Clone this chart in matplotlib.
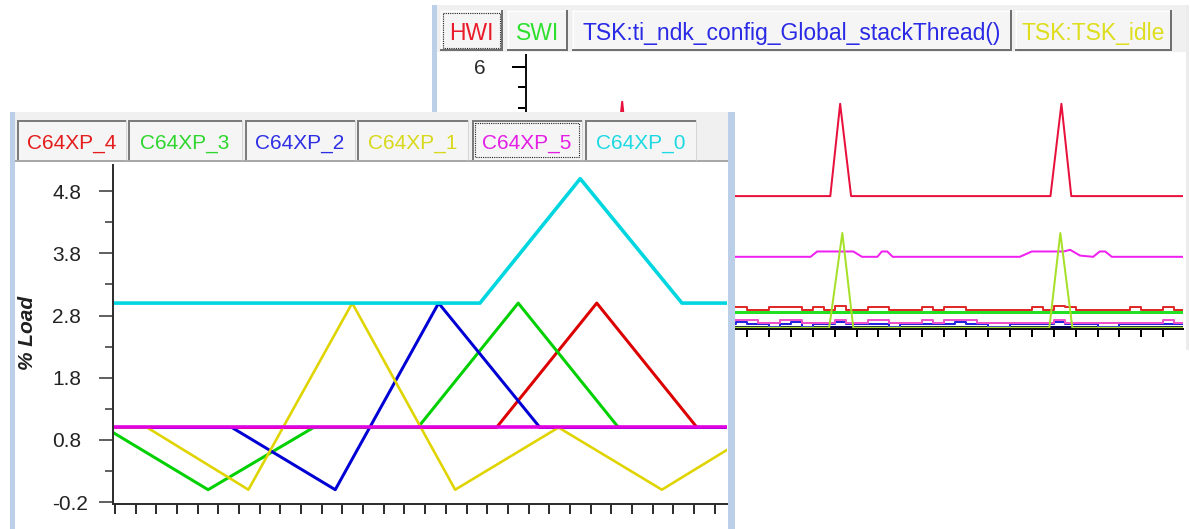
#!/usr/bin/env python3

import numpy as np
import matplotlib
matplotlib.use('Agg')
import matplotlib.pyplot as plt
from matplotlib.patches import Rectangle
from matplotlib.ticker import FixedLocator

plt.rcParams['font.family'] = ['Liberation Sans', 'DejaVu Sans']

W, H = 1190, 529
PT = 0.72   # points per pixel (dpi=100)

# ---------------- front window : % load per core ----------------
front_tabs = ['C64XP_4', 'C64XP_3', 'C64XP_2', 'C64XP_1', 'C64XP_5', 'C64XP_0']
front_tab_colors = ['#e41c1c', '#2ed62e', '#2e2ee4', '#d8d81c', '#e41ee4', '#1cd9e2']
front_yticks = [-0.2, 0.8, 1.8, 2.8, 3.8, 4.8]

core4_x = [-0.1, 18.45, 23.3, 28.15, 29.6]
core4_y = [1.0, 1.0, 3.0, 1.0, 1.0]
core3_x = [-0.1, 4.5, 9.6, 14.65, 19.5, 24.35, 29.6]
core3_y = [0.92, 0.0, 1.0, 1.0, 3.0, 1.0, 1.0]
core2_x = [-0.1, 5.65, 10.65, 15.65, 20.55, 29.6]
core2_y = [1.0, 1.0, 0.0, 3.0, 1.0, 1.0]
core1_x = [-0.1, 1.55, 6.45, 11.47, 16.45, 21.45, 26.45, 29.6]
core1_y = [1.0, 1.0, 0.0, 3.0, 0.0, 1.0, 0.0, 0.64]
core5_x = [-0.1, 29.6]
core5_y = [1.0, 1.0]
core0_x = [-0.1, 17.65, 22.5, 27.42, 29.6]
core0_y = [3.0, 3.0, 5.0, 3.0, 3.0]

# ---------------- back window : threads ----------------
back_tabs = ['HWI', 'SWI', 'TSK:ti_ndk_config_Global_stackThread()', 'TSK:TSK_idle']
back_tab_colors = ['#ea1a2a', '#2ee02e', '#2a2ae6', '#dede1e']
back_yticks = [0, 2, 4, 6]

hwi_x = [0, 3.85, 4.3, 4.75, 13.8, 14.25, 14.75, 23.85, 24.35, 24.8, 29.9]
hwi_y = [2.85, 2.85, 5.15, 2.85, 2.85, 5.1, 2.85, 2.85, 5.1, 2.85, 2.85]
idle_x = [0, 3.8, 4.3, 4.85, 13.75, 14.35, 14.85, 23.8, 24.3, 24.85, 29.9]
idle_y = [-0.36, -0.36, 1.95, -0.36, -0.36, 1.95, -0.36, -0.36, 1.95, -0.36, -0.36]
stack_x = [0, 12.9, 13.2, 14.85, 15.25, 15.95, 16.15, 16.4, 16.65,
           22.45, 23.0, 24.45, 24.75, 25.2, 25.8, 26.1, 26.35, 26.65, 29.9]
stack_y = [1.37, 1.37, 1.5, 1.5, 1.37, 1.37, 1.5, 1.5, 1.37,
           1.37, 1.5, 1.5, 1.54, 1.4, 1.37, 1.5, 1.5, 1.37, 1.37]
swi_x = [0, 29.9]
swi_y = [0.02, 0.02]
navy_x = [0, 29.9]
navy_y = [-0.35, -0.35]

# low level series, one value every half tick
red_low = [0.07, 0.07, 0.15, 0.15, 0.15, 0.07, 0.15, 0.07, 0.17, 0.07,
           0.07, 0.15, 0.15, 0.07, 0.07, 0.07, 0.15, 0.07, 0.15, 0.15,
           0.07, 0.07, 0.15, 0.15, 0.15, 0.07, 0.15, 0.07, 0.17, 0.07,
           0.07, 0.15, 0.15, 0.07, 0.07, 0.07, 0.15, 0.07, 0.15, 0.15,
           0.07, 0.07, 0.07, 0.07, 0.07, 0.07, 0.15, 0.07, 0.17, 0.15,
           0.07, 0.07, 0.07, 0.07, 0.07, 0.15, 0.07, 0.07, 0.15, 0.07]
pink_low = [-0.235, -0.235, -0.235, -0.17, -0.17, -0.235, -0.235, -0.235, -0.17, -0.235,
            -0.235, -0.17, -0.17, -0.235, -0.235, -0.235, -0.17, -0.235, -0.17, -0.17,
            -0.17, -0.235, -0.235, -0.17, -0.17, -0.235, -0.235, -0.235, -0.17, -0.235,
            -0.235, -0.17, -0.17, -0.235, -0.235, -0.235, -0.17, -0.235, -0.17, -0.17,
            -0.17, -0.235, -0.235, -0.235, -0.235, -0.235, -0.235, -0.235, -0.17, -0.235,
            -0.235, -0.235, -0.235, -0.235, -0.235, -0.235, -0.235, -0.235, -0.17, -0.235]
blue_low = [-0.27, -0.27, -0.27, -0.27, -0.22, -0.34, -0.27, -0.27, -0.22, -0.27,
            -0.27, -0.27, -0.27, -0.34, -0.27, -0.27, -0.27, -0.27, -0.27, -0.22,
            -0.27, -0.27, -0.34, -0.27, -0.22, -0.34, -0.27, -0.27, -0.22, -0.27,
            -0.27, -0.27, -0.27, -0.34, -0.27, -0.27, -0.27, -0.27, -0.27, -0.22,
            -0.27, -0.27, -0.34, -0.34, -0.27, -0.27, -0.27, -0.27, -0.22, -0.27,
            -0.27, -0.27, -0.34, -0.34, -0.27, -0.27, -0.27, -0.27, -0.27, -0.27]


def fig_rect(x0, y0, x1, y1):
    return [x0 / W, 1 - y1 / H, (x1 - x0) / W, (y1 - y0) / H]


def canvas(fig, z):
    ax = fig.add_axes([0, 0, 1, 1])
    ax.set_xlim(0, W)
    ax.set_ylim(H, 0)
    ax.axis('off')
    ax.set_zorder(z)
    ax.patch.set_alpha(0)
    return ax


def box(ax, x0, y0, x1, y1, color):
    ax.add_patch(Rectangle((x0, y0), x1 - x0, y1 - y0, facecolor=color,
                           edgecolor='none', lw=0))


def seg(ax, xs, ys, color, px=2):
    ax.plot(xs, ys, color=color, lw=px * PT, solid_capstyle='butt')


def draw_tabs(ax, labels, colors, spans, y0, y1, size, focus, raised):
    for i, (lab, col, (x0, x1)) in enumerate(zip(labels, colors, spans)):
        box(ax, x0, y0, x1, y1, '#f5f5f5')
        if raised:
            seg(ax, [x0, x1], [y0 + 0.5, y0 + 0.5], '#ffffff', 1)
            seg(ax, [x0 + 0.5, x0 + 0.5], [y0, y1], '#ffffff', 1)
            seg(ax, [x0, x1], [y1 - 1, y1 - 1], '#707070', 2)
            seg(ax, [x1 - 1, x1 - 1], [y0, y1], '#707070', 2)
        else:
            seg(ax, [x0, x1], [y0 + 1, y0 + 1], '#7c7c7c', 2)
            seg(ax, [x0 + 1, x0 + 1], [y0, y1], '#7c7c7c', 2)
            seg(ax, [x1 - 0.5, x1 - 0.5], [y0, y1], '#d6d6d6', 1)
        if i == focus:
            ax.add_patch(Rectangle((x0 + 3, y0 + 3), x1 - x0 - 6, y1 - y0 - 6,
                                   facecolor='none', edgecolor='#202020',
                                   lw=0.8, linestyle=(0, (1, 1))))
        ax.text((x0 + x1) / 2, y1 - 11, lab, color=col, fontsize=size,
                ha='center', va='baseline')


fig = plt.figure(figsize=(W / 100, H / 100), dpi=100)
fig.patch.set_facecolor('white')

# ---------- back window frame ----------
bk = canvas(fig, 0)
box(bk, 432, 5, 1190, 350, 'white')
box(bk, 437, 5, 1186, 52, '#f0f0f0')
box(bk, 432, 5, 437, 350, '#bccfe8')
box(bk, 1186, 5, 1189, 350, '#ececec')
draw_tabs(bk, back_tabs, back_tab_colors,
          [(440, 503), (507, 568), (572, 1012), (1015, 1172)],
          10, 51, 16.5, 0, True)

# ---------- back plot ----------
ab = fig.add_axes(fig_rect(526, 55, 1183, 329))
ab.set_zorder(1)
ab.patch.set_alpha(0)
grid = np.arange(61) * 0.5
ab.plot(navy_x, navy_y, color='#000050', lw=2 * PT)
ab.step(grid, blue_low + blue_low[-1:], where='post', color='#2424e0', lw=2 * PT)
ab.step(grid, pink_low + pink_low[-1:], where='post', color='#f050c8', lw=2 * PT)
ab.plot(swi_x, swi_y, color='#22e022', lw=3 * PT)
ab.step(grid, red_low + red_low[-1:], where='post', color='#e02a2a', lw=2 * PT)
ab.plot(stack_x, stack_y, color='#f020f0', lw=2 * PT)
ab.plot(idle_x, idle_y, color='#a6e028', lw=2 * PT)
ab.plot(hwi_x, hwi_y, color='#e8103c', lw=2 * PT)
ab.set_xlim(-0.09, 29.9)
ab.set_ylim(-0.39, 6.29)
for s in ['top', 'right']:
    ab.spines[s].set_visible(False)
for s in ['left', 'bottom']:
    ab.spines[s].set_color('#101010')
    ab.spines[s].set_linewidth(2 * PT)
ab.set_xticks(range(30))
ab.tick_params(axis='x', length=8 * PT, width=2 * PT, labelbottom=False)
ab.set_yticks(back_yticks)
# only the top label is not hidden behind the front window
ab.set_yticklabels([str(v) if v == back_yticks[-1] else '' for v in back_yticks])
ab.yaxis.set_minor_locator(FixedLocator([v * 0.5 for v in range(13)]))
ab.tick_params(axis='y', which='major', length=14 * PT, width=2 * PT,
               labelsize=15, pad=26 * PT, labelcolor='#2a2a2a')
ab.tick_params(axis='y', which='minor', length=8 * PT, width=2 * PT)

# ---------- front window frame ----------
fr = canvas(fig, 2)
box(fr, 10, 112, 735, 529, 'white')
box(fr, 15, 112, 728, 160, '#f0f0f0')
seg(fr, [15, 728], [161, 161], '#a8a8a8', 2)
box(fr, 10, 112, 15, 529, '#bccfe8')
box(fr, 728, 112, 735, 529, '#bccfe8')
draw_tabs(fr, front_tabs, front_tab_colors,
          [(17, 126), (128, 242), (245, 355), (357, 468), (472, 582), (585, 696)],
          120, 160, 15, 4, False)

# ---------- front plot ----------
af = fig.add_axes(fig_rect(113, 165, 727, 504))
af.set_zorder(3)
af.patch.set_alpha(0)
af.plot(core4_x, core4_y, color='#dc0000', lw=3 * PT)
af.plot(core3_x, core3_y, color='#00d000', lw=3 * PT)
af.plot(core2_x, core2_y, color='#0000d4', lw=3 * PT)
af.plot(core1_x, core1_y, color='#e0d400', lw=2.6 * PT)
af.plot(core0_x, core0_y, color='#00d6e0', lw=3.6 * PT)
af.plot(core5_x, core5_y, color='#e000e0', lw=3.6 * PT)
af.set_xlim(-0.1, 29.6)
af.set_ylim(-0.23, 5.22)
for s in ['top', 'right']:
    af.spines[s].set_visible(False)
for s in ['left', 'bottom']:
    af.spines[s].set_color('#303030')
    af.spines[s].set_linewidth(2 * PT)
af.set_xticks(range(30))
af.tick_params(axis='x', length=10 * PT, width=2 * PT, color='#303030',
               labelbottom=False)
af.set_yticks(front_yticks)
af.set_yticklabels([f'{v:.1f}' for v in front_yticks])
af.yaxis.set_minor_locator(FixedLocator([v + 0.5 for v in front_yticks]))
af.tick_params(axis='y', which='major', length=14 * PT, width=1.5 * PT,
               color='#303030', labelsize=15, pad=47 * PT, labelcolor='#222222')
af.tick_params(axis='y', which='minor', length=8 * PT, width=1.5 * PT,
               color='#303030')
for lbl in af.get_yticklabels():
    lbl.set_horizontalalignment('left')
af.set_ylabel('% Load', fontsize=15, fontweight='bold', fontstyle='italic',
              color='#202020')
af.yaxis.label.set_va('center')
af.yaxis.set_label_coords((28 - 113) / 614, (504 - 333) / 339)

fig.savefig('out.png', dpi=100, facecolor='white')
plt.close(fig)
